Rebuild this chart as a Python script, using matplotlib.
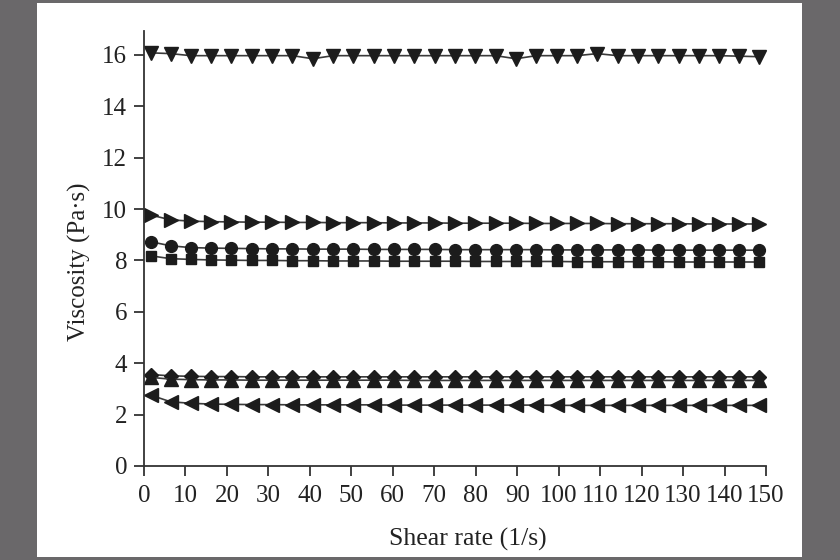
import matplotlib.pyplot as plt
from matplotlib.patches import Rectangle

# shear rate points (1/s)
shear = [1.6, 6.4, 11.3, 16.2, 21.1, 26.0, 30.9, 35.8, 40.7, 45.6,
         50.5, 55.4, 60.3, 65.2, 70.1, 75.0, 79.9, 84.8, 89.7, 94.6,
         99.5, 104.4, 109.3, 114.2, 119.1, 124.0, 128.9, 133.8, 138.7, 143.6, 148.3]

visc_down = [16.08, 16.05, 15.97, 15.97, 15.97, 15.97, 15.97, 15.97, 15.85, 15.97,
             15.97, 15.97, 15.97, 15.97, 15.97, 15.97, 15.97, 15.97, 15.85, 15.97,
             15.97, 15.97, 16.05, 15.97, 15.97, 15.97, 15.97, 15.97, 15.97, 15.95, 15.93]
visc_right = [9.77, 9.58, 9.53, 9.51, 9.50, 9.49, 9.49, 9.48, 9.48, 9.47,
              9.47, 9.47, 9.46, 9.46, 9.46, 9.45, 9.45, 9.45, 9.45, 9.44,
              9.44, 9.44, 9.44, 9.43, 9.43, 9.43, 9.43, 9.42, 9.42, 9.42, 9.42]
visc_circle = [8.73, 8.57, 8.50, 8.48, 8.47, 8.46, 8.45, 8.45, 8.44, 8.44,
               8.44, 8.43, 8.43, 8.43, 8.43, 8.42, 8.42, 8.42, 8.42, 8.42,
               8.41, 8.41, 8.41, 8.41, 8.41, 8.40, 8.40, 8.40, 8.40, 8.40, 8.40]
visc_square = [8.18, 8.07, 8.04, 8.02, 8.01, 8.00, 8.00, 7.99, 7.99, 7.98,
               7.98, 7.98, 7.97, 7.97, 7.97, 7.97, 7.96, 7.96, 7.96, 7.96,
               7.96, 7.95, 7.95, 7.95, 7.95, 7.95, 7.94, 7.94, 7.94, 7.94, 7.94]
visc_diamond = [3.56, 3.51, 3.49, 3.48, 3.48, 3.47, 3.47, 3.47, 3.47, 3.47,
                3.47, 3.47, 3.47, 3.47, 3.47, 3.47, 3.47, 3.47, 3.47, 3.47,
                3.47, 3.47, 3.47, 3.47, 3.47, 3.47, 3.47, 3.47, 3.47, 3.47, 3.47]
visc_up = [3.45, 3.38, 3.36, 3.35, 3.35, 3.34, 3.34, 3.34, 3.34, 3.34,
           3.34, 3.34, 3.34, 3.33, 3.33, 3.33, 3.33, 3.33, 3.33, 3.33,
           3.33, 3.33, 3.33, 3.33, 3.33, 3.33, 3.33, 3.33, 3.33, 3.33, 3.33]
visc_left = [2.76, 2.50, 2.44, 2.41, 2.40, 2.39, 2.39, 2.38, 2.38, 2.38,
             2.38, 2.38, 2.37, 2.37, 2.37, 2.37, 2.37, 2.37, 2.37, 2.37,
             2.36, 2.36, 2.36, 2.36, 2.36, 2.36, 2.36, 2.36, 2.36, 2.36, 2.36]

series = [
    (visc_down, "v", 10),
    (visc_right, ">", 10),
    (visc_circle, "o", 8.5),
    (visc_square, "s", 7.5),
    (visc_diamond, "D", 7.5),
    (visc_up, "^", 10),
    (visc_left, "<", 10),
]

plt.rcParams["font.family"] = ["Liberation Serif", "DejaVu Serif"]

fig = plt.figure(figsize=(8.4, 5.6), dpi=100, facecolor="#6a686a")
fig.patches.append(Rectangle((37 / 840, 3 / 560), 765 / 840, 554 / 560,
                             transform=fig.transFigure, facecolor="white",
                             edgecolor="none", zorder=-10))
ax = fig.add_axes([144 / 840, 94 / 560, 622 / 840, 435 / 560])
ax.set_facecolor("white")

for vals, mk, ms in series:
    ax.plot(shear, vals, color="#3a3a3a", lw=1.2, marker=mk, ms=ms,
            markerfacecolor="#1c1c1c", markeredgecolor="#1c1c1c",
            clip_on=False)

ax.set_xlim(0, 150)
ax.set_ylim(0, 16.93)
ax.set_xticks(range(0, 151, 10))
ax.set_yticks(range(0, 17, 2))
ax.spines["top"].set_visible(False)
ax.spines["right"].set_visible(False)
for s in ("left", "bottom"):
    ax.spines[s].set_linewidth(1.3)
    ax.spines[s].set_color("#333333")
ax.tick_params(direction="out", length=7, width=1.3, colors="#333333",
               labelsize=18, labelcolor="#222222")
ax.tick_params(axis="x", pad=7)
ax.tick_params(axis="y", pad=5)
ax.set_xlabel("Shear rate (1/s)", fontsize=18.5, color="#222222",
              labelpad=15, x=0.521)
ax.set_ylabel("Viscosity (Pa·s)", fontsize=18, color="#222222",
              labelpad=8, y=0.469)

fig.savefig("out.png", dpi=100, facecolor=fig.get_facecolor())
